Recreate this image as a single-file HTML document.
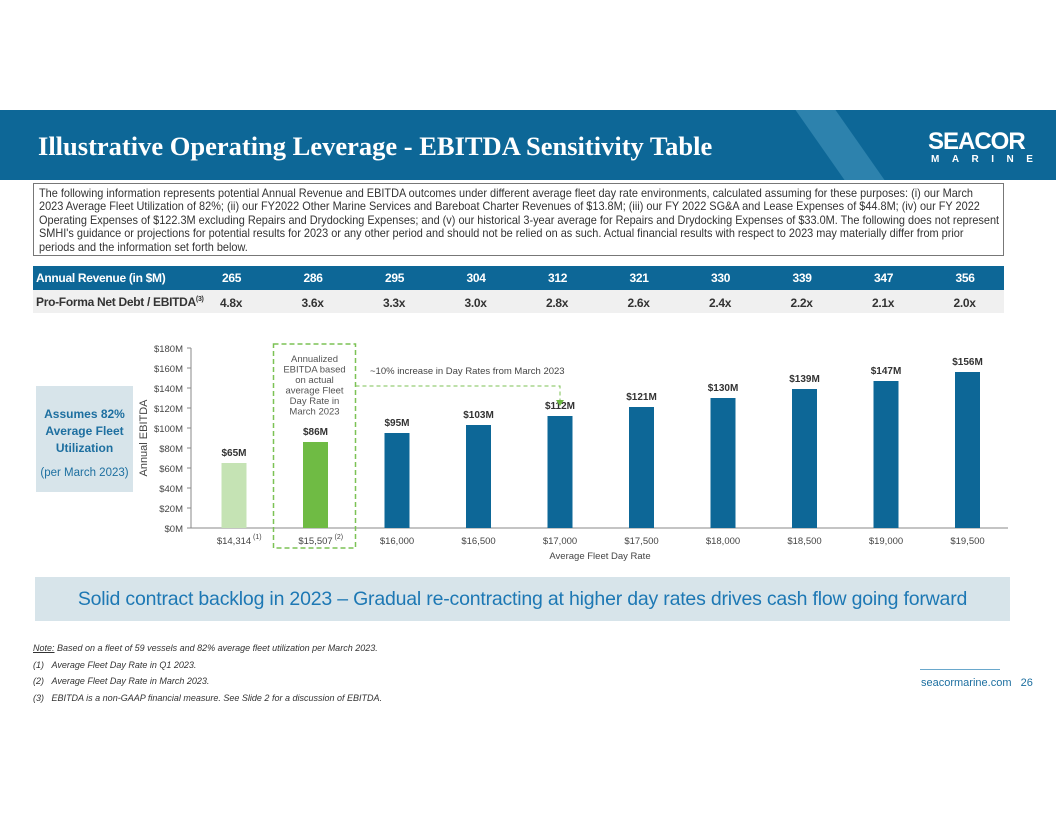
<!DOCTYPE html>
<html><head><meta charset="utf-8"><style>
body{margin:0;width:1056px;height:816px;background:#fff;font-family:"Liberation Sans",sans-serif;position:relative;overflow:hidden}
.abs{position:absolute}
</style></head><body>
<div class="abs" style="left:0;top:110px;width:1056px;height:70px;background:#0d6797;overflow:hidden">
 <div class="abs" style="left:820px;top:0;width:40px;height:70px;background:#2d82ad;transform:skewX(35deg)"></div>
 <div class="abs" style="left:38px;top:21px;color:#fff;font-family:'Liberation Serif',serif;font-weight:bold;font-size:26.5px;white-space:nowrap">Illustrative Operating Leverage - EBITDA Sensitivity Table</div>
 <div class="abs" style="left:928px;top:18px;color:#fff;font-weight:bold;font-size:24px;letter-spacing:-1px">SEACOR</div>
 <div class="abs" style="left:931px;top:44px;color:#fff;font-weight:bold;font-size:10px;letter-spacing:12.5px;white-space:nowrap">MARINE</div>
</div>
<div class="abs" style="left:33px;top:183px;width:971px;height:73px;border:1px solid #777;box-sizing:border-box;overflow:hidden;color:#333">
 <div style="position:absolute;left:5px;top:3px;width:1100px;transform:scaleX(0.91);transform-origin:0 0;font-size:12px;line-height:13.4px;white-space:nowrap">The following information represents potential Annual Revenue and EBITDA outcomes under different average fleet day rate environments, calculated assuming for these purposes: (i) our March<br>2023 Average Fleet Utilization of 82%; (ii) our FY2022 Other Marine Services and Bareboat Charter Revenues of $13.8M; (iii) our FY 2022 SG&amp;A and Lease Expenses of $44.8M; (iv) our FY 2022<br>Operating Expenses of $122.3M excluding Repairs and Drydocking Expenses; and (v) our historical 3-year average for Repairs and Drydocking Expenses of $33.0M. The following does not represent<br>SMHI's guidance or projections for potential results for 2023 or any other period and should not be relied on as such. Actual financial results with respect to 2023 may materially differ from prior<br>periods and the information set forth below.</div>
</div>
<div class="abs" style="left:33px;top:266px;width:971px;height:24px;background:#0d6797"></div>
<div class="abs" style="left:33px;top:290px;width:971px;height:23px;background:#f0f0f0"></div>
<div id="tbl"></div>
<svg class="abs" style="left:0;top:330px" width="1056" height="240" id="chart"></svg>
<div class="abs" style="left:36px;top:386px;width:97px;height:106px;background:#d7e4ea;text-align:center;color:#1d6fa0;font-size:12px;font-weight:bold;line-height:17px;padding-top:20px;box-sizing:border-box">Assumes 82%<br>Average Fleet<br>Utilization<div style="font-weight:normal;margin-top:8px;font-size:11.5px;white-space:nowrap">(per March 2023)</div></div>
<div class="abs" style="left:35px;top:577px;width:975px;height:44px;background:#d7e4ea;color:#1d78b4;font-size:19.5px;text-align:center;line-height:44px;white-space:nowrap;letter-spacing:-0.2px">Solid contract backlog in 2023 – Gradual re-contracting at higher day rates drives cash flow going forward</div>
<div class="abs" style="left:33px;top:640px;font-size:9px;font-style:italic;color:#333;line-height:16.5px"><u>Note:</u> Based on a fleet of 59 vessels and 82% average fleet utilization per March 2023.<br>(1)&nbsp;&nbsp;&nbsp;Average Fleet Day Rate in Q1 2023.<br>(2)&nbsp;&nbsp;&nbsp;Average Fleet Day Rate in March 2023.<br>(3)&nbsp;&nbsp;&nbsp;EBITDA is a non-GAAP financial measure. See Slide 2 for a discussion of EBITDA.</div>
<div class="abs" style="left:920px;top:669px;width:80px;border-top:1px solid #6aa8cc"></div>
<div class="abs" style="left:921px;top:677px;font-size:11px;color:#1d6fa0;white-space:nowrap">seacormarine.com&nbsp;&nbsp;&nbsp;26</div>
<script>
const revenue=["265","286","295","304","312","321","330","339","347","356"];
const leverage=["4.8x","3.6x","3.3x","3.0x","2.8x","2.6x","2.4x","2.2x","2.1x","2.0x"];
const categories=["$14,314","$15,507","$16,000","$16,500","$17,000","$17,500","$18,000","$18,500","$19,000","$19,500"];
const catSup=["(1)","(2)","","","","","","","",""];
const ebitda=[65,86,95,103,112,121,130,139,147,156];
const yTicks=[0,20,40,60,80,100,120,140,160,180];
const tbl=document.getElementById('tbl');
function cell(txt,x,y,color,bold,name){const d=document.createElement('div');d.className='abs';d.style.cssText=`left:${x}px;top:${y}px;color:${color};font-size:12px;font-weight:${bold?'bold':'normal'};white-space:nowrap;letter-spacing:-0.3px`;d.innerHTML=txt;


tbl.appendChild(d);}
cell('Annual Revenue (in $M)',36,271,'#fff',true,'revenue-label');
cell('Pro-Forma Net Debt / EBITDA<sup style="font-size:7px">(3)</sup>',36,295,'#333',true,'leverage-label');
revenue.forEach((v,i)=>cell(v,222+i*81.5,271,'#fff',true,'revenue-'+v));
leverage.forEach((v,i)=>cell(v,220+i*81.5,296,'#333',true,'leverage-'+i));
const svg=document.getElementById('chart');const NS='http://www.w3.org/2000/svg';
const oy=330,y0=528-oy,x0=191;
const ys=v=>y0-v*1.0, xs=i=>234+i*81.5;
function el(t,a,txt){const e=document.createElementNS(NS,t);for(const k in a)e.setAttribute(k,a[k]);if(txt!=null)e.textContent=txt;svg.appendChild(e);return e;}
yTicks.forEach(t=>{const e=el('text',{x:x0-8,y:ys(t)+4,'text-anchor':'end','font-size':9.5,fill:'#444'},'$'+t+'M');


el('line',{x1:x0-4,x2:x0,y1:ys(t),y2:ys(t),stroke:'#888'});});
el('line',{x1:x0,x2:x0,y1:ys(180),y2:y0,stroke:'#888'});
el('line',{x1:x0,x2:1008,y1:y0,y2:y0,stroke:'#888'});
const yt=el('text',{x:0,y:0,transform:`translate(147,${ys(90)}) rotate(-90)`,'text-anchor':'middle','font-size':11,fill:'#444'},'Annual EBITDA');


ebitda.forEach((v,i)=>{const col=i==0?'#c5e3b4':i==1?'#6fbb44':'#0d6797';
const b=el('rect',{x:xs(i)-12.5,y:ys(v),width:25,height:v*1.0,fill:col});


const l=el('text',{x:xs(i),y:ys(v)-7,'text-anchor':'middle','font-size':10,'font-weight':'bold',fill:'#333'},'$'+v+'M');


const c=el('text',{x:xs(i),y:y0+16,'text-anchor':'middle','font-size':9.5,fill:'#444'},categories[i]);


if(catSup[i])el('text',{x:xs(i)+19,y:y0+11,'font-size':7,fill:'#444'},catSup[i]);});
const xt=el('text',{x:600,y:y0+31,'text-anchor':'middle','font-size':9.5,fill:'#444'},'Average Fleet Day Rate');


el('rect',{x:xs(1)-42,y:ys(184),width:82,height:y0+20-ys(184),fill:'none',stroke:'#7cc255','stroke-width':1.5,'stroke-dasharray':'5,3'});
['Annualized','EBITDA based','on actual','average Fleet','Day Rate in','March 2023'].forEach((t,k)=>el('text',{x:xs(1)-1,y:ys(166)+k*10.5,'text-anchor':'middle','font-size':9.5,fill:'#555'},t));
el('polyline',{points:`${xs(1)+40},${ys(142)} ${xs(4)},${ys(142)} ${xs(4)},${ys(127)}`,fill:'none',stroke:'#7cc255','stroke-dasharray':'4,3'});
el('polygon',{points:`${xs(4)-4},${ys(128)} ${xs(4)+4},${ys(128)} ${xs(4)},${ys(122)}`,fill:'#6fbb44'});
el('text',{x:370,y:ys(154),'font-size':9.5,fill:'#444'},'~10% increase in Day Rates from March 2023');
</script>
</body></html>
